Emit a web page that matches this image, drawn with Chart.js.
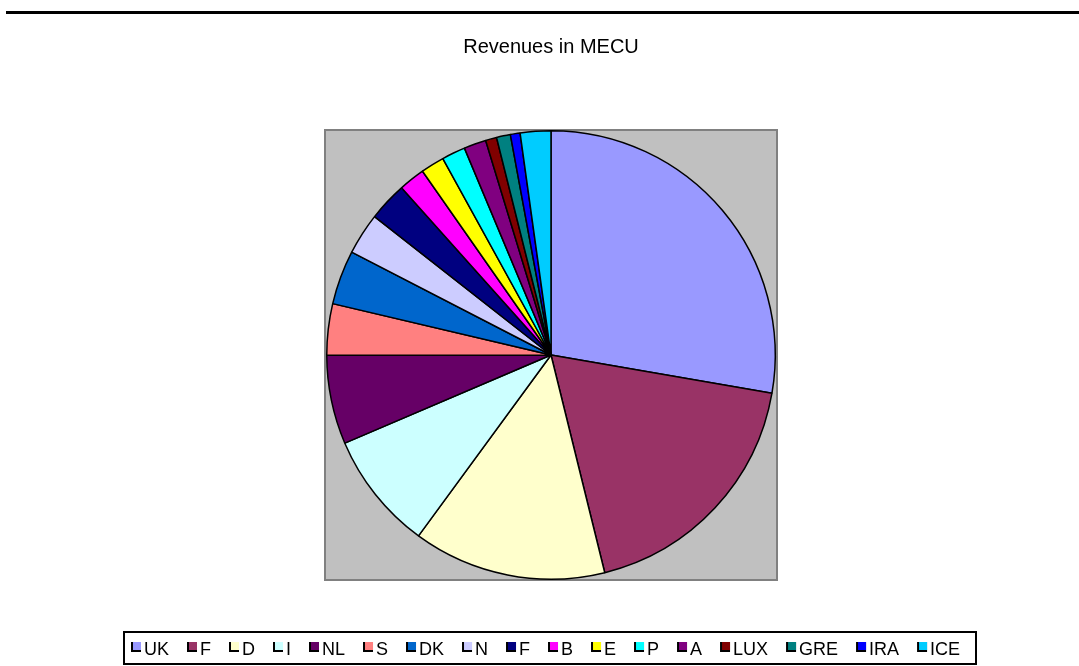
<!DOCTYPE html>
<html>
<head>
<meta charset="utf-8">
<title>Revenues in MECU</title>
<script src="https://cdn.jsdelivr.net/npm/chart.js@4.4.0/dist/chart.umd.min.js"></script>
<style>
  html, body { margin: 0; padding: 0; background: #fff; }
  #wrap { width: 1079px; height: 666px; position: relative; }
</style>
</head>
<body>
<div id="wrap"><canvas id="revChart"></canvas></div>
<script>
// country codes, in the order of the legend
const countries = ['UK', 'F', 'D', 'I', 'NL', 'S', 'DK', 'N', 'F', 'B', 'E', 'P', 'A', 'LUX', 'GRE', 'IRA', 'ICE'];
// revenues (MECU)
const revenues = [2770, 1840, 1390, 850, 640, 370, 390, 300, 280, 190, 170, 170, 160, 80, 100, 70, 220];
const sliceColors = ['#9999FF', '#993366', '#FFFFCC', '#CCFFFF', '#660066', '#FF8080', '#0066CC', '#CCCCFF',
                     '#000080', '#FF00FF', '#FFFF00', '#00FFFF', '#800080', '#800000', '#008080', '#0000FF', '#00CCFF'];

// grey plot area behind the pie + the rule at the top of the page
const plotBackground = {
    id: 'plotBackground',
    beforeDraw(chart) {
        const { ctx, chartArea } = chart;
        ctx.save();
        ctx.fillStyle = '#000';
        ctx.fillRect(6, 11, chart.width - 6, 3);
        ctx.fillStyle = '#C0C0C0';
        ctx.fillRect(chartArea.left, chartArea.top, chartArea.width, chartArea.height);
        ctx.strokeStyle = '#808080';
        ctx.lineWidth = 2;
        ctx.strokeRect(chartArea.left, chartArea.top, chartArea.width, chartArea.height);
        ctx.restore();
    }
};

// Excel-style boxed legend along the bottom
const boxedLegend = {
    id: 'boxedLegend',
    afterDraw(chart) {
        const { ctx } = chart;
        const labels = chart.data.labels;
        const colors = chart.data.datasets[0].backgroundColor;
        const sq = 10, gap = 3, itemGap = 18;
        ctx.save();
        ctx.font = '18px "Liberation Sans", Arial, sans-serif';
        ctx.textBaseline = 'middle';
        const widths = labels.map(l => sq + gap + ctx.measureText(l).width);
        const total = widths.reduce((a, b) => a + b, 0) + itemGap * (labels.length - 1);
        let x = Math.round((124 + 976 - total) / 2) - 4;
        const yMid = 649;

        ctx.strokeStyle = '#000';
        ctx.lineWidth = 2;
        ctx.strokeRect(124, 632, 852, 32);

        labels.forEach((label, i) => {
            ctx.fillStyle = '#000';
            ctx.fillRect(x, yMid - 7, sq, sq);
            ctx.fillStyle = colors[i];
            ctx.fillRect(x + 2, yMid - 7, sq - 2, sq - 2);
            ctx.fillStyle = '#000';
            ctx.fillText(label, x + sq + gap, yMid + 1);
            x += widths[i] + itemGap;
        });
        ctx.restore();
    }
};

const ctx = document.getElementById('revChart').getContext('2d');
new Chart(ctx, {
    type: 'pie',
    data: {
        labels: countries,
        datasets: [{
            data: revenues,
            backgroundColor: sliceColors,
            borderColor: '#000',
            borderWidth: 1.5
        }]
    },
    options: {
        responsive: true,
        maintainAspectRatio: false,
        animation: false,
        layout: {
            padding: { left: 325, right: 302, top: 0, bottom: 86 }
        },
        plugins: {
            legend: { display: false },
            tooltip: { enabled: false },
            title: {
                display: true,
                text: 'Revenues in MECU',
                color: '#000',
                font: { family: '"Liberation Sans", Arial, sans-serif', size: 20, weight: 'normal', lineHeight: 1.2 },
                padding: { top: 35, bottom: 71 }
            }
        }
    },
    plugins: [plotBackground, boxedLegend]
});
</script>
</body>
</html>
